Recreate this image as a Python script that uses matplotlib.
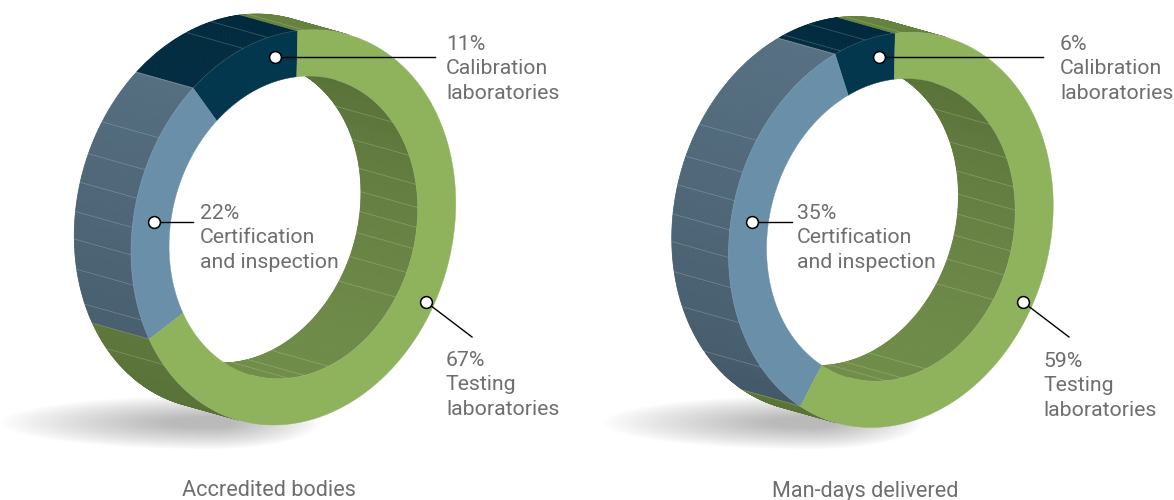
import numpy as np
import matplotlib as mpl
mpl.rcParams.update({'font.family': 'Roboto', 'font.size': 15})
from matplotlib import pyplot as plt
from matplotlib.collections import PolyCollection

# values of the two rings
SEGMENTS = ["Calibration laboratories", "Certification and inspection", "Testing laboratories"]
BODIES = [11, 22, 67]
MANDAYS = [6, 35, 59]
TITLES = ["Accredited bodies", "Man-days delivered"]
LABELS = [["Calibration", "laboratories"], ["Certification", "and inspection"], ["Testing", "laboratories"]]

# ring shape, in pixels
RX, RY, SHEAR = 161.0, 197.5, 20.0
INNER = 0.767
DEPTH = (-57.0, -16.0)
START = -5.6
FACETS = [-16, -25, -63, -73, -81.5, -90, -98, -107, -118, -134,
          -3, 46, 61.6, 73.5, 82.5, 90, 98, 107.3, 117.4, 156.5, 167.7, 175]

GREY = '#6d6e70'
FRONT = ['#02374d', '#6a90a9', '#8fb35d']
OUT_TOP = ['#012a3e', '#567083', '#66823f']
OUT_BOT = ['#012a3e', '#425868', '#597238']
IN_TOP = ['#012a3e', '#567083', '#597238']
IN_BOT = ['#012a3e', '#425868', '#708d49']


def ring_xy(cx, cy, theta, k=1.0):
    t = np.radians(theta)
    x = cx + k * (RX * np.sin(t) + SHEAR * np.cos(t))
    y = cy - k * RY * np.cos(t)
    return x, y


def mix(c1, c2, f):
    a = np.array(mpl.colors.to_rgb(c1))
    b = np.array(mpl.colors.to_rgb(c2))
    return a + (b - a) * f


def seg_index(theta, edges):
    a = (START - theta) % 360
    for i in range(3):
        if a < edges[i + 1]:
            return i
    return 2


def draw_shadow(ax, cx, cy):
    xs = np.arange(cx - 215, cx + 115)
    ys = np.arange(cy - 30, cy + 31)
    xx, yy = np.meshgrid(xs, ys)
    rx = np.where(xx < cx, 210.0, 110.0)
    d = np.sqrt(((xx - cx) / rx) ** 2 + ((yy - cy) / 27.0) ** 2)
    f = np.clip((1 - d) / 0.8, 0, 1)
    rgba = np.zeros(xx.shape + (4,))
    rgba[..., :3] = 0.73
    rgba[..., 3] = f ** 0.9
    ax.imshow(rgba, extent=(xs[0], xs[-1] + 1, ys[-1] + 1, ys[0]), zorder=1,
              interpolation='bilinear', aspect='auto')


def draw_ring(ax, values, cx, cy):
    edges = np.concatenate([[0], np.cumsum(values) * 3.6])
    theta = START - np.arange(0, 360.5, 0.5)
    mids = (theta[:-1] + theta[1:]) / 2

    # which side of the wall can be seen
    t = np.radians(mids)
    nx, ny = np.sin(t) / RX, -np.cos(t) / RY
    facing = nx * DEPTH[0] + ny * DEPTH[1]

    for k, top, bot, show in [(1.0, OUT_TOP, OUT_BOT, facing > 0), (INNER, IN_TOP, IN_BOT, facing < 0)]:
        polys, cols = [], []
        for i in np.where(show)[0]:
            x0, y0 = ring_xy(cx, cy, theta[i], k)
            x1, y1 = ring_xy(cx, cy, theta[i + 1], k)
            polys.append([(x0, y0), (x1, y1), (x1 + DEPTH[0], y1 + DEPTH[1]), (x0 + DEPTH[0], y0 + DEPTH[1])])
            s = seg_index(mids[i], edges)
            f = (1 - np.cos(t[i])) / 2
            cols.append(mix(top[s], bot[s], f))
        ax.add_collection(PolyCollection(polys, facecolors=cols, edgecolors=cols, linewidths=0.5, zorder=2))

        # facet lines across the wall
        for a in list(FACETS) + [START - e for e in edges[1:3]]:
            nf = np.sin(np.radians(a)) / RX * DEPTH[0] - np.cos(np.radians(a)) / RY * DEPTH[1]
            if (k == 1.0 and nf > 0) or (k != 1.0 and nf < 0):
                if k == 1.0 and a > 0:
                    continue
                if k != 1.0 and a < 0:
                    continue
                x0, y0 = ring_xy(cx, cy, a, k)
                ax.plot([x0, x0 + DEPTH[0]], [y0, y0 + DEPTH[1]], color='white', lw=0.6, alpha=0.2, zorder=3)

        # pale edge where the wall meets the front
        xe, ye = ring_xy(cx, cy, theta, k)
        xe = np.where(np.append(show, show[-1]), xe, np.nan)
        ax.plot(xe, ye, color='white', lw=0.7, alpha=0.4, zorder=3)

    # front face
    for i in range(3):
        a = START - np.linspace(edges[i], edges[i + 1], 300)
        xo, yo = ring_xy(cx, cy, a)
        xi, yi = ring_xy(cx, cy, a, INNER)
        pts = np.column_stack([np.concatenate([xo, xi[::-1]]), np.concatenate([yo, yi[::-1]])])
        ax.fill(pts[:, 0], pts[:, 1], color=FRONT[i], lw=0.3, zorder=4)


def draw_notes(ax, values, title, dots, ends, text_x, text_y, title_x, title_y):
    for i in range(3):
        ax.plot([dots[i][0], ends[i][0]], [dots[i][1], ends[i][1]], color='black', lw=1.0, zorder=5)
        ax.plot(*dots[i], 'o', ms=8.5, mfc='white', mec='black', mew=1.1, zorder=6)
        lines = ["%d%%" % values[i]] + LABELS[i]
        for j, s in enumerate(lines):
            ax.text(text_x[i], text_y[i] + j * 24.4, s, color=GREY, fontsize=15.3, va='baseline', zorder=7)
    ax.text(title_x, title_y, title, color=GREY, fontsize=15.6, ha='center', va='baseline')


def plot():
    fig = plt.figure(figsize=(11.74, 5), dpi=100)
    ax = fig.add_axes([0, 0, 1, 1])

    draw_shadow(ax, 210, 422)
    draw_shadow(ax, 812, 422)
    draw_ring(ax, BODIES, 293.5, 227.5)
    draw_ring(ax, MANDAYS, 891.0, 230.0)

    draw_notes(ax, BODIES, TITLES[0],
               [(275, 57), (154, 222), (426, 302)], [(435, 57), (193, 222), (472, 337)],
               [446, 200, 446], [50, 219, 366], 268.5, 496)
    draw_notes(ax, MANDAYS, TITLES[1],
               [(879, 57), (752, 222), (1023, 302)], [(1043, 57), (792, 222), (1069, 337)],
               [1060, 797, 1043], [50, 219, 367], 865.5, 497)

    ax.set_xlim(0, 1174)
    ax.set_ylim(500, 0)
    ax.axis('off')
    fig.savefig('out.png', dpi=100)


plot()
